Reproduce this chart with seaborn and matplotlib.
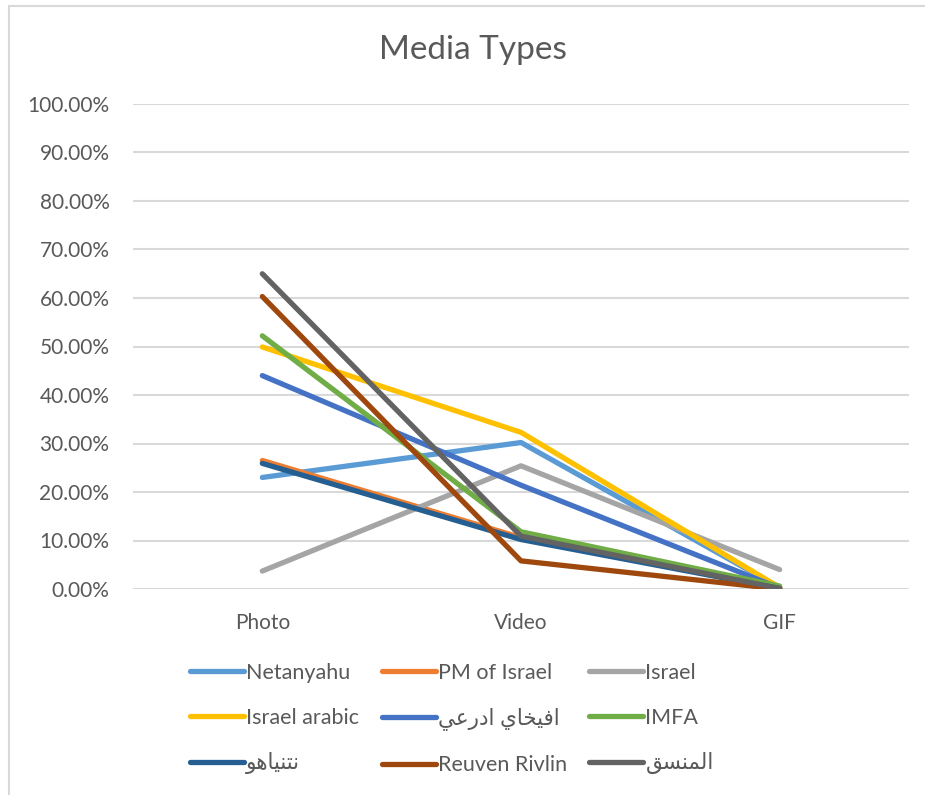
import pandas as pd
import matplotlib.pyplot as plt
import seaborn as sns
from matplotlib.ticker import PercentFormatter
from matplotlib.patches import Rectangle

# values (percent)
categories = ['Photo', 'Video', 'GIF']
netanyahu = [23.0, 30.2, 0.3]
pm_israel = [26.5, 10.6, 0.1]
israel = [3.7, 25.4, 4.0]
israel_arabic = [49.9, 32.3, 0.3]
avichay = [44.0, 21.4, 0.2]
imfa = [52.2, 11.8, 0.6]
netanyahu_ar = [25.9, 10.2, 0.1]
rivlin = [60.3, 5.8, 0.0]
cogat = [65.0, 10.9, 0.1]

series_names = ['Netanyahu', 'PM of Israel', 'Israel', 'Israel arabic',
                'افيخاي ادرعي', 'IMFA', 'نتنياهو', 'Reuven Rivlin', 'المنسق']
series_vals = [netanyahu, pm_israel, israel, israel_arabic, avichay,
               imfa, netanyahu_ar, rivlin, cogat]
colors = ['#5B9BD5', '#ED7D31', '#A5A5A5', '#FFC000', '#4472C4',
          '#70AD47', '#255E91', '#9E480E', '#636363']

# minimal arabic shaping so matplotlib draws joined letters right-to-left
AR_ISO = {'ا': 0xFE8D, 'ت': 0xFE95, 'خ': 0xFEA5, 'د': 0xFEA9, 'ر': 0xFEAD,
          'س': 0xFEB1, 'ع': 0xFEC9, 'ف': 0xFED1, 'ق': 0xFED5, 'ل': 0xFEDD,
          'م': 0xFEE1, 'ن': 0xFEE5, 'ه': 0xFEE9, 'و': 0xFEED, 'ي': 0xFEF1}
RIGHT_ONLY = set('ادرو')


def shape(text):
    if not any(c in AR_ISO for c in text):
        return text
    out = []
    for i, c in enumerate(text):
        if c not in AR_ISO:
            out.append(c)
            continue
        prev = text[i-1] if i > 0 else ''
        nxt = text[i+1] if i < len(text)-1 else ''
        joins_prev = prev in AR_ISO and prev not in RIGHT_ONLY
        joins_next = nxt in AR_ISO and c not in RIGHT_ONLY
        base = AR_ISO[c]
        if joins_prev and joins_next:
            code = base + 3
        elif joins_prev:
            code = base + 1
        elif joins_next:
            code = base + 2
        else:
            code = base
        out.append(chr(code))
    return ''.join(out[::-1])


rows = []
for name, vals in zip(series_names, series_vals):
    for cat, v in zip(categories, vals):
        rows.append({'category': cat, 'value': v, 'series': shape(name)})
df = pd.DataFrame(rows)

sns.set_theme(style='white')
plt.rcParams['font.family'] = ['Lato', 'DejaVu Sans']
txt = '#595959'

fig = plt.figure(figsize=(9.25, 7.95), dpi=100)
ax = fig.add_axes([133/925, 1-589/795, 776/925, 485/795])

sns.lineplot(data=df, x='category', y='value', hue='series',
             hue_order=[shape(n) for n in series_names], palette=colors,
             sort=False, linewidth=3.8, ax=ax, legend=True)
for ln in ax.get_lines():
    ln.set_solid_capstyle('round')
    ln.set_solid_joinstyle('round')

ax.set_xlim(-0.5, 2.5)
ax.set_ylim(0, 100)
ax.set_yticks(range(0, 101, 10))
ax.yaxis.set_major_formatter(PercentFormatter(xmax=100, decimals=2))
ax.grid(axis='y', color='#D9D9D9', linewidth=1.5)
ax.set_axisbelow(True)
for s in ax.spines.values():
    s.set_visible(False)
ax.tick_params(axis='both', length=0, labelsize=15, labelcolor=txt)
ax.tick_params(axis='y', pad=17)
ax.tick_params(axis='x', pad=17)
ax.set_xlabel('')
ax.set_ylabel('')

handles, labels = ax.get_legend_handles_labels()
ax.get_legend().remove()
for h in handles:
    h.set_linewidth(3.8)
    h.set_solid_capstyle('round')
# legend fills columns first; reorder so entries read row by row
order = [0, 3, 6, 1, 4, 7, 2, 5, 8]
fig.legend([handles[i] for i in order], [labels[i] for i in order],
           loc='center', bbox_to_anchor=(452/925, 1-719/795),
           ncol=3, frameon=False, fontsize=15.5, labelcolor=txt,
           handlelength=2.5, handletextpad=0.1, columnspacing=1.05,
           labelspacing=1.15)

fig.text(473/925, 1-50/795, 'Media Types', ha='center', va='center',
         fontsize=24, color=txt)

fig.patches.append(Rectangle((9/925, -0.1), 1.0, 1-6/795+0.1,
                             transform=fig.transFigure, fill=False,
                             edgecolor='#D9D9D9', linewidth=1.5))

fig.savefig('out.png', dpi=100, facecolor='white')
plt.close()
